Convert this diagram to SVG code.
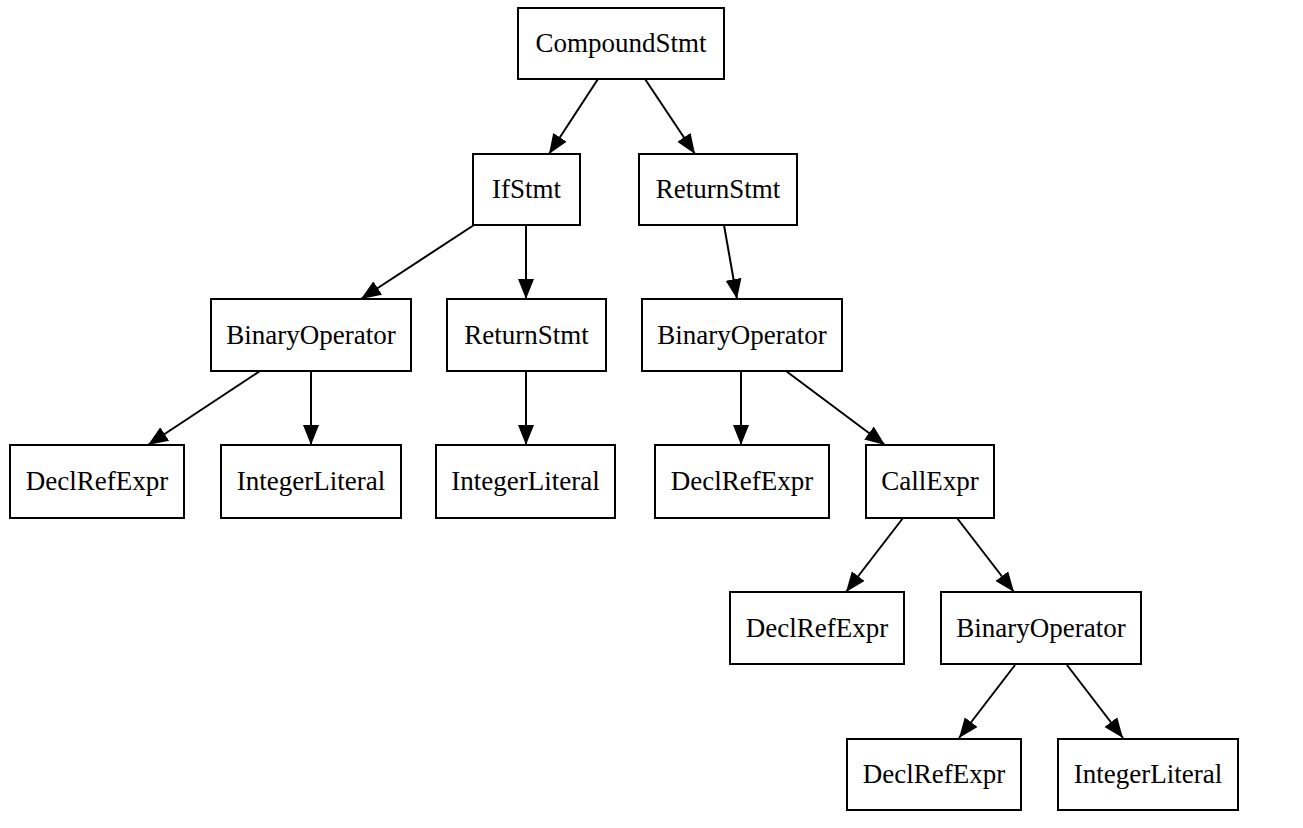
<svg xmlns="http://www.w3.org/2000/svg" width="1303" height="828" viewBox="0 0 1303 828">
<style>
rect{fill:#fff;stroke:#000;stroke-width:2}
text{font-family:"Liberation Serif","Times New Roman",serif;font-size:27px;text-anchor:middle;fill:#000}
.e line{stroke:#000;stroke-width:2;marker-end:url(#ah)}
</style>
<defs>
<marker id="ah" markerUnits="userSpaceOnUse" markerWidth="22" markerHeight="18" refX="20" refY="8" orient="auto" viewBox="0 0 22 16">
<path d="M0,0 L20,8 L0,16 z" fill="#000"/>
</marker>
</defs>
<rect x="0" y="0" width="1303" height="828" style="stroke:none"/>
<g class="e" id="connectors">
<line x1="598" y1="79" x2="549" y2="154"/>
<line x1="645" y1="79" x2="695" y2="154"/>
<line x1="474" y1="225" x2="361" y2="299"/>
<line x1="526" y1="225" x2="526" y2="299"/>
<line x1="724" y1="225" x2="737" y2="299"/>
<line x1="260" y1="371" x2="148" y2="445"/>
<line x1="311" y1="371" x2="311" y2="445"/>
<line x1="526" y1="371" x2="526" y2="445"/>
<line x1="741" y1="371" x2="741" y2="445"/>
<line x1="786" y1="371" x2="885" y2="445"/>
<line x1="903" y1="518" x2="846" y2="592"/>
<line x1="957" y1="518" x2="1014" y2="592"/>
<line x1="1015" y1="665" x2="959" y2="738"/>
<line x1="1067" y1="665" x2="1123" y2="738"/>
</g>
<g id="n_compound"><rect x="518" y="8" width="206" height="71"/><text x="621" y="52">CompoundStmt</text></g>
<g id="n_if"><rect x="473" y="154" width="107" height="71"/><text x="526.5" y="198">IfStmt</text></g>
<g id="n_ret1"><rect x="639" y="154" width="158" height="71"/><text x="718" y="198">ReturnStmt</text></g>
<g id="n_bin1"><rect x="211" y="299" width="200" height="72"/><text x="311" y="344">BinaryOperator</text></g>
<g id="n_ret2"><rect x="447" y="299" width="159" height="72"/><text x="526.5" y="344">ReturnStmt</text></g>
<g id="n_bin2"><rect x="642" y="299" width="200" height="72"/><text x="742" y="344">BinaryOperator</text></g>
<g id="n_decl1"><rect x="10" y="445" width="174" height="73"/><text x="97" y="490">DeclRefExpr</text></g>
<g id="n_int1"><rect x="221" y="445" width="180" height="73"/><text x="311" y="490">IntegerLiteral</text></g>
<g id="n_int2"><rect x="436" y="445" width="179" height="73"/><text x="525.5" y="490">IntegerLiteral</text></g>
<g id="n_decl2"><rect x="655" y="445" width="174" height="73"/><text x="742" y="490">DeclRefExpr</text></g>
<g id="n_call"><rect x="866" y="445" width="128" height="73"/><text x="930" y="490">CallExpr</text></g>
<g id="n_decl3"><rect x="730" y="592" width="174" height="72"/><text x="817" y="637">DeclRefExpr</text></g>
<g id="n_bin3"><rect x="941" y="592" width="200" height="72"/><text x="1041" y="637">BinaryOperator</text></g>
<g id="n_decl4"><rect x="847" y="739" width="174" height="71"/><text x="934" y="783">DeclRefExpr</text></g>
<g id="n_int3"><rect x="1058" y="739" width="180" height="71"/><text x="1148" y="783">IntegerLiteral</text></g>
</svg>
